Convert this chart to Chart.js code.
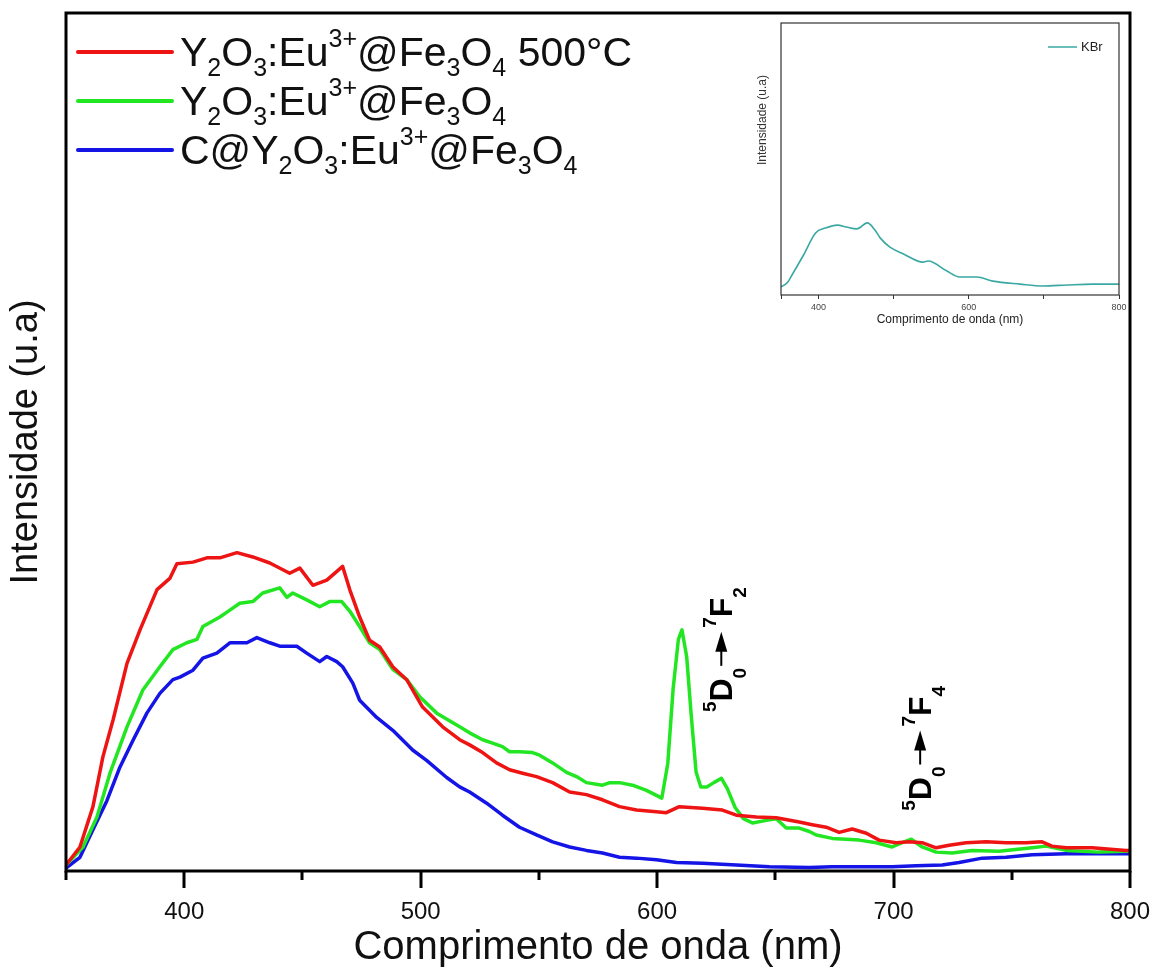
<!DOCTYPE html>
<html>
<head>
<meta charset="utf-8">
<title>Espectros de emissão</title>
<script src="https://cdn.jsdelivr.net/npm/chart.js@4.4.1/dist/chart.umd.min.js"></script>
<style>
  html, body { margin: 0; padding: 0; background: #ffffff; }
  #wrap { position: relative; width: 1154px; height: 968px; background: #ffffff; }
  #main { position: absolute; left: 0; top: 0; }
  #inset { position: absolute; left: 740px; top: 15px; }
</style>
</head>
<body>
<div id="wrap">
  <canvas id="main" width="1154" height="968" style="width:1154px;height:968px"></canvas>
  <canvas id="inset" width="400" height="320" style="width:400px;height:320px"></canvas>
</div>
<script>
// ---- Spectra (wavelength in nm, intensity in arbitrary units) ----
const wlRed = [350.0, 355.9, 361.4, 365.6, 369.9, 375.8, 381.3, 388.5, 393.9, 396.9, 403.7, 409.6, 415.1, 422.3, 429.0, 436.2, 444.6, 448.9, 454.4, 460.3, 467.0, 470.0, 474.2, 478.4, 482.7, 488.2, 494.1, 500.8, 509.3, 516.5, 520.7, 526.2, 532.1, 537.6, 543.1, 549.0, 555.8, 563.0, 570.1, 576.9, 584.1, 591.3, 599.7, 603.9, 609.4, 619.2, 627.6, 633.5, 642.0, 650.4, 660.1, 665.6, 671.5, 677.0, 682.5, 688.5, 693.9, 701.1, 706.6, 712.1, 718.0, 723.5, 730.7, 739.2, 747.6, 756.0, 762.8, 767.0, 773.0, 784.0, 798.3, 800.0];
const intRed = [0.7, 2.8, 7.5, 13.3, 17.6, 24.2, 28.1, 32.8, 34.1, 35.8, 36.0, 36.5, 36.5, 37.1, 36.6, 35.9, 34.7, 35.3, 33.3, 33.9, 35.5, 32.8, 29.6, 26.9, 26.1, 23.8, 22.3, 19.1, 16.8, 15.3, 14.7, 13.8, 12.6, 11.8, 11.4, 11.0, 10.3, 9.2, 8.9, 8.3, 7.5, 7.1, 6.9, 6.8, 7.5, 7.3, 7.1, 6.5, 6.3, 6.2, 5.7, 5.4, 5.1, 4.5, 4.9, 4.4, 3.6, 3.3, 3.4, 3.3, 2.7, 3.0, 3.3, 3.4, 3.3, 3.3, 3.4, 2.9, 2.7, 2.7, 2.4, 2.4];

const wlGreen = [350.0, 357.2, 363.1, 368.6, 375.8, 382.5, 389.7, 395.2, 401.1, 405.4, 407.9, 415.1, 419.3, 423.5, 429.0, 433.2, 440.4, 443.4, 445.9, 451.8, 457.3, 461.5, 466.6, 470.0, 474.2, 478.4, 482.7, 488.2, 494.1, 499.6, 506.8, 516.5, 520.7, 526.2, 530.4, 534.6, 537.6, 541.8, 547.3, 550.3, 555.8, 561.7, 565.9, 570.1, 576.9, 580.0, 584.1, 589.6, 595.5, 602.0, 604.5, 606.8, 609.0, 610.5, 612.5, 614.5, 616.5, 618.5, 621.0, 624.0, 627.2, 629.7, 633.0, 636.5, 640.3, 646.2, 650.4, 654.6, 660.1, 664.4, 667.3, 674.1, 685.5, 692.7, 699.4, 703.7, 707.5, 712.1, 718.0, 724.8, 733.2, 744.6, 758.6, 764.5, 773.0, 786.9, 798.3, 800.0];
const intGreen = [0.7, 2.8, 6.3, 11.4, 16.8, 21.1, 23.8, 25.8, 26.6, 27.0, 28.5, 29.6, 30.4, 31.2, 31.4, 32.4, 33.0, 31.9, 32.4, 31.6, 30.8, 31.4, 31.4, 30.3, 28.5, 26.6, 25.8, 23.5, 22.3, 20.3, 18.4, 16.8, 16.1, 15.3, 14.9, 14.5, 13.9, 13.9, 13.8, 13.5, 12.6, 11.5, 11.0, 10.3, 10.0, 10.3, 10.3, 10.0, 9.4, 8.5, 12.5, 21.3, 27.0, 28.1, 25.0, 17.9, 11.5, 9.8, 9.8, 10.3, 10.8, 9.6, 7.4, 6.1, 5.6, 5.9, 6.1, 5.0, 5.0, 4.6, 4.2, 3.8, 3.6, 3.3, 2.8, 3.3, 3.7, 2.8, 2.2, 2.1, 2.4, 2.3, 2.7, 2.9, 2.4, 2.2, 2.3, 2.3];

const wlBlue = [350.0, 355.9, 361.4, 367.3, 372.8, 378.3, 384.2, 389.7, 395.2, 398.2, 403.7, 407.9, 413.8, 419.3, 426.5, 430.7, 436.2, 440.4, 447.6, 451.8, 457.3, 460.3, 464.5, 467.0, 471.3, 474.2, 481.4, 488.2, 496.6, 502.5, 511.0, 516.5, 520.7, 527.9, 534.6, 541.8, 549.0, 555.8, 563.0, 570.1, 576.9, 584.1, 591.3, 599.7, 608.2, 619.2, 633.5, 647.5, 664.4, 674.1, 688.5, 699.4, 709.6, 720.6, 727.7, 737.5, 747.6, 758.6, 773.0, 786.9, 800.0];
const intBlue = [0.35, 1.6, 4.8, 8.2, 12.1, 15.2, 18.4, 20.7, 22.3, 22.6, 23.4, 24.8, 25.4, 26.6, 26.6, 27.2, 26.6, 26.2, 26.2, 25.4, 24.4, 25.0, 24.4, 23.8, 21.9, 19.9, 17.9, 16.4, 14.1, 12.9, 10.9, 9.8, 9.2, 7.9, 6.5, 5.1, 4.2, 3.4, 2.8, 2.4, 2.1, 1.6, 1.5, 1.3, 1.0, 0.9, 0.7, 0.5, 0.4, 0.5, 0.5, 0.5, 0.6, 0.7, 1.0, 1.5, 1.6, 1.9, 2.0, 2.0, 2.0];

// KBr reference spectrum (inset)
const wlKBr = [350, 358, 366, 380, 396, 409, 425, 437, 451, 465, 475, 482, 495, 513, 539, 546, 571, 588, 611, 632, 668, 699, 731, 765, 800];
const intKBr = [0.03, 0.044, 0.08, 0.147, 0.228, 0.246, 0.257, 0.25, 0.243, 0.265, 0.239, 0.21, 0.176, 0.151, 0.121, 0.125, 0.088, 0.066, 0.066, 0.051, 0.04, 0.033, 0.037, 0.04, 0.04];

// Series names (markup: _x subscript, ^{..} superscript)
const seriesNames = ['Y_2O_3:Eu^{3+}@Fe_3O_4 500°C', 'Y_2O_3:Eu^{3+}@Fe_3O_4', 'C@Y_2O_3:Eu^{3+}@Fe_3O_4'];
const seriesColors = ['#ee1414', '#22e622', '#1414e6'];
const insetName = 'KBr';
const insetColor = '#3aa8a2';

// Axis tick labels
const xTickValues = [400, 500, 600, 700, 800];
const insetTickValues = [400, 600, 800];

// Transition labels: markup, "~" is the arrow
const transitions = [
  { text: '^5D_0~^7F_2', nm: 631.8, y: 25.8 },
  { text: '^5D_0~^7F_4', nm: 715.9, y: 14.3 }
];

const FAMILY = "'Liberation Sans', Arial, 'DejaVu Sans', sans-serif";

function toPoints(xs, ys) { return xs.map((x, i) => ({ x: x, y: ys[i] })); }

function parseRich(s) {
  const out = [];
  let i = 0;
  while (i < s.length) {
    const c = s[i];
    if (c === '_' || c === '^') {
      let t;
      if (s[i + 1] === '{') { const j = s.indexOf('}', i); t = s.slice(i + 2, j); i = j + 1; }
      else { t = s[i + 1]; i += 2; }
      out.push({ t: t, k: c === '_' ? 'sub' : 'sup' });
    } else if (c === '~') {
      out.push({ t: '→', k: 'arrow' }); i++;
    } else {
      let j = i;
      while (j < s.length && '_^~'.indexOf(s[j]) < 0) j++;
      out.push({ t: s.slice(i, j), k: 'n' }); i = j;
    }
  }
  return out;
}
function plainText(s) { return parseRich(s).map(p => p.t).join(''); }

// Draws a run of text with sub/superscripts on the current baseline
function richWidth(ctx, segs, o) {
  let w = 0;
  segs.forEach(sg => {
    if (sg.k === 'arrow') { w += o.arrowLen; return; }
    const size = sg.k === 'n' ? o.size : o.small;
    ctx.font = o.weight + ' ' + size + 'px ' + FAMILY;
    w += ctx.measureText(sg.t).width;
  });
  return w;
}
function drawRich(ctx, segs, x, y, o) {
  ctx.textBaseline = 'alphabetic';
  ctx.textAlign = 'left';
  ctx.fillStyle = o.color;
  ctx.strokeStyle = o.color;
  let cx = x;
  segs.forEach(sg => {
    if (sg.k === 'arrow') {
      const ay = y - o.arrowMid;
      const x0 = cx + 2, x1 = cx + o.arrowLen - 4;
      ctx.lineWidth = 2;
      ctx.beginPath(); ctx.moveTo(x0, ay); ctx.lineTo(x1 - 16, ay); ctx.stroke();
      ctx.beginPath(); ctx.moveTo(x1, ay); ctx.lineTo(x1 - 20, ay - 6); ctx.lineTo(x1 - 20, ay + 6); ctx.closePath(); ctx.fill();
      cx += o.arrowLen;
      return;
    }
    const size = sg.k === 'n' ? o.size : o.small;
    const dy = sg.k === 'sub' ? o.subShift : (sg.k === 'sup' ? -o.supShift : 0);
    ctx.font = o.weight + ' ' + size + 'px ' + FAMILY;
    ctx.fillText(sg.t, cx, y + dy);
    cx += ctx.measureText(sg.t).width;
  });
  return cx - x;
}

// Main chart decorations: frame, tick marks, transition labels, legend
const mainDecor = {
  id: 'mainDecor',
  afterDraw(chart) {
    const ctx = chart.ctx;
    const a = chart.chartArea;
    const xs = chart.scales.x;
    ctx.save();
    ctx.strokeStyle = '#000';
    ctx.lineWidth = 3;
    ctx.strokeRect(a.left, a.top, a.right - a.left, a.bottom - a.top);
    ctx.lineCap = 'butt';
    for (let v = 350; v <= 800; v += 50) {
      const px = Math.round(xs.getPixelForValue(v));
      const len = v % 100 === 0 ? 17 : 9;
      ctx.beginPath(); ctx.moveTo(px, a.bottom); ctx.lineTo(px, a.bottom + len); ctx.stroke();
    }
    // transition labels, rotated
    const ys = chart.scales.y;
    const to = { size: 32, small: 19, weight: 'bold', color: '#000', subShift: 14, supShift: 16, arrowLen: 40, arrowMid: 11 };
    transitions.forEach(tr => {
      const segs = parseRich(tr.text);
      const w = richWidth(ctx, segs, to);
      ctx.save();
      ctx.translate(xs.getPixelForValue(tr.nm), ys.getPixelForValue(tr.y));
      ctx.rotate(-Math.PI / 2);
      drawRich(ctx, segs, -w / 2, 0, to);
      ctx.restore();
    });
    // legend
    const lo = { size: 41, small: 25, weight: 'normal', color: '#111', subShift: 10, supShift: 19 };
    chart.data.datasets.forEach((ds, i) => {
      const ly = 52 + i * 49;
      ctx.strokeStyle = ds.borderColor;
      ctx.lineWidth = 4;
      ctx.lineCap = 'round';
      ctx.beginPath(); ctx.moveTo(78, ly); ctx.lineTo(172, ly); ctx.stroke();
      drawRich(ctx, parseRich(seriesNames[i]), 180, ly + 14, lo);
    });
    ctx.restore();
  }
};

const mainChart = new Chart(document.getElementById('main'), {
  type: 'line',
  data: {
    datasets: [
      { label: plainText(seriesNames[0]), data: toPoints(wlRed, intRed), borderColor: seriesColors[0] },
      { label: plainText(seriesNames[1]), data: toPoints(wlGreen, intGreen), borderColor: seriesColors[1] },
      { label: plainText(seriesNames[2]), data: toPoints(wlBlue, intBlue), borderColor: seriesColors[2] }
    ]
  },
  options: {
    responsive: false,
    animation: false,
    devicePixelRatio: 1,
    layout: { padding: { top: 13, right: 24, left: 0, bottom: 0 } },
    elements: {
      point: { radius: 0 },
      line: { borderWidth: 3.5, tension: 0, borderJoinStyle: 'round', borderCapStyle: 'round', fill: false }
    },
    plugins: { legend: { display: false }, tooltip: { enabled: false } },
    scales: {
      x: {
        type: 'linear', min: 350, max: 800,
        grid: { display: false, drawTicks: false },
        border: { display: false },
        ticks: {
          stepSize: 50, autoSkip: false, maxRotation: 0, padding: 27,
          font: { family: FAMILY, size: 24 }, color: '#111',
          callback: v => xTickValues.includes(v) ? String(v) : ''
        },
        title: { display: true, text: 'Comprimento de onda (nm)', color: '#111', font: { family: FAMILY, size: 40, lineHeight: 1 }, padding: { top: 0, bottom: 0 } },
        afterFit: s => { s.height = 97; s.paddingLeft = 0; s.paddingRight = 0; }
      },
      y: {
        min: 0, max: 100,
        grid: { display: false, drawTicks: false },
        border: { display: false },
        ticks: { display: false },
        title: { display: true, text: 'Intensidade (u.a)', color: '#111', font: { family: FAMILY, size: 38, lineHeight: 1 }, padding: { top: 8, bottom: 0 } },
        afterFit: s => { s.width = 66; s.paddingTop = 0; s.paddingBottom = 0; }
      }
    }
  },
  plugins: [mainDecor]
});

// Inset decorations: frame, rotated y title, legend
const insetDecor = {
  id: 'insetDecor',
  afterDraw(chart) {
    const ctx = chart.ctx;
    const a = chart.chartArea;
    ctx.save();
    ctx.strokeStyle = '#333';
    ctx.lineWidth = 1.2;
    ctx.strokeRect(a.left, a.top, a.right - a.left, a.bottom - a.top);
    ctx.fillStyle = '#333';
    ctx.font = '12px ' + FAMILY;
    ctx.textAlign = 'center';
    ctx.textBaseline = 'middle';
    ctx.translate(23, 105);
    ctx.rotate(-Math.PI / 2);
    ctx.fillText('Intensidade (u.a)', 0, 0);
    ctx.restore();
    ctx.save();
    const ds = chart.data.datasets[0];
    ctx.strokeStyle = ds.borderColor;
    ctx.lineWidth = 1.5;
    ctx.beginPath(); ctx.moveTo(308, 32); ctx.lineTo(337, 32); ctx.stroke();
    ctx.fillStyle = '#222';
    ctx.font = '13px ' + FAMILY;
    ctx.textAlign = 'left';
    ctx.textBaseline = 'middle';
    ctx.fillText(ds.label, 341, 32);
    ctx.restore();
  }
};

const insetChart = new Chart(document.getElementById('inset'), {
  type: 'line',
  data: { datasets: [{ label: insetName, data: toPoints(wlKBr, intKBr), borderColor: insetColor }] },
  options: {
    responsive: false,
    animation: false,
    devicePixelRatio: 1,
    layout: { padding: { top: 8, right: 21, left: 0, bottom: 0 } },
    elements: {
      point: { radius: 0 },
      line: { borderWidth: 1.6, cubicInterpolationMode: 'monotone', fill: false }
    },
    plugins: { legend: { display: false }, tooltip: { enabled: false } },
    scales: {
      x: {
        type: 'linear', min: 350, max: 800,
        grid: { display: true, drawOnChartArea: false, drawTicks: true, tickLength: 4, color: '#333', lineWidth: 1 },
        border: { display: false },
        ticks: {
          stepSize: 100, autoSkip: false, maxRotation: 0, padding: 3,
          font: { family: FAMILY, size: 9 }, color: '#444',
          callback: v => insetTickValues.includes(v) ? String(v) : ''
        },
        title: { display: true, text: 'Comprimento de onda (nm)', color: '#222', font: { family: FAMILY, size: 12, lineHeight: 1 }, padding: { top: 0, bottom: 9 } },
        afterFit: s => { s.height = 40; s.paddingLeft = 0; s.paddingRight = 0; }
      },
      y: {
        min: 0, max: 1,
        grid: { display: false, drawTicks: false },
        border: { display: false },
        ticks: { display: false },
        afterFit: s => { s.width = 41; s.paddingTop = 0; s.paddingBottom = 0; }
      }
    }
  },
  plugins: [insetDecor]
});
</script>
</body>
</html>
